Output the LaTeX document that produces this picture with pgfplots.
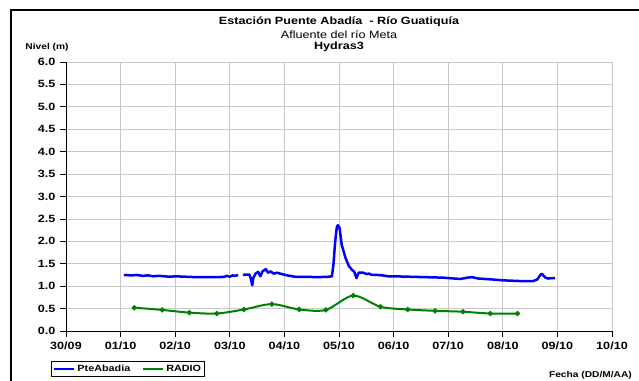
\documentclass[border=0pt]{standalone}
\usepackage{fontspec}
\setmainfont{Liberation Sans}[FakeStretch=1.2]
\usepackage{pgfplots}
\pgfplotsset{compat=1.18}
\definecolor{ablue}{HTML}{0000FF}
\definecolor{agreen}{HTML}{008000}
\definecolor{agrid}{HTML}{C8C8C8}
\begin{document}
\begin{tikzpicture}
\path[use as bounding box] (0,0) rectangle (639bp,381bp);
\draw[line width=2.5bp,line cap=rect] (11bp,0) -- (11bp,371bp) -- (639bp,371bp);
\node[font=\fontsize{10.5bp}{12bp}\selectfont\bfseries] at (339bp,359bp) {Estación Puente Abadía \ - Río Guatiquía};
\node[font=\fontsize{10.5bp}{12bp}\selectfont] at (339bp,346bp) {Afluente del río Meta};
\node[font=\fontsize{10.5bp}{12bp}\selectfont\bfseries] at (339bp,334bp) {Hydras3};
\node[font=\fontsize{8.5bp}{10bp}\selectfont\bfseries] at (47bp,334bp) {Nivel (m)};
\node[font=\fontsize{8.5bp}{10bp}\selectfont\bfseries,anchor=base east,inner sep=0] at (632bp,4bp) {Fecha (DD/M/AA)};
\begin{axis}[
  at={(66bp,50bp)}, anchor=south west,
  scale only axis, width=546bp, height=269bp,
  xmin=0, xmax=10, ymin=0, ymax=6,
  xtick={0,1,...,10},
  xticklabels={30/09,01/10,02/10,03/10,04/10,05/10,06/10,07/10,08/10,09/10,10/10},
  ytick={0,0.5,...,6},
  /pgf/number format/assume math mode=true,
  /pgf/number format/fixed,
  /pgf/number format/fixed zerofill,
  /pgf/number format/precision=1,
  ticklabel style={font=\fontsize{10.5bp}{12bp}\selectfont\bfseries},
  grid=major, major grid style={agrid, line width=0.8bp},
  axis x line*=bottom, axis y line*=left,
  axis line style={black, line width=1bp, -},
  tick style={black, line width=0.8bp},
  tick align=outside, major tick length=6bp,
  xticklabel style={yshift=-1bp},
  yticklabel style={xshift=-1bp},
  unbounded coords=jump,
  legend columns=2,
  legend style={at={(-0.0275,-0.171)}, anchor=south west, draw=black, line width=1bp,
    font=\fontsize{9bp}{10bp}\selectfont\bfseries, inner sep=1.5bp,
    /tikz/every even column/.append style={column sep=10bp}},
  legend image code/.code={\draw[#1] (0bp,0bp) -- (20bp,0bp);},
]
\addplot[ablue, line width=2.5bp, line join=round] coordinates {
(1.06,1.25) (1.2,1.24) (1.3,1.25) (1.4,1.23) (1.5,1.24) (1.6,1.22) (1.7,1.23) (1.8,1.22)
(1.9,1.21) (2.0,1.22) (2.2,1.21) (2.4,1.20) (2.6,1.20) (2.8,1.20) (2.9,1.21) (2.95,1.23)
(3.0,1.21) (3.05,1.24) (3.1,1.23) (3.15,1.25)
(3.2,nan)
(3.24,1.25) (3.3,1.26) (3.36,1.26) (3.39,1.15) (3.41,1.02) (3.43,1.18) (3.47,1.28)
(3.52,1.32) (3.56,1.22) (3.6,1.33) (3.66,1.38) (3.7,1.30) (3.75,1.33) (3.8,1.28)
(3.87,1.30) (3.95,1.27) (4.05,1.24) (4.2,1.21) (4.4,1.21) (4.6,1.20) (4.8,1.21)
(4.87,1.22) (4.9,1.5) (4.93,2.0) (4.96,2.32) (4.98,2.36) (5.01,2.30) (5.05,1.92)
(5.12,1.63) (5.18,1.45) (5.24,1.36) (5.28,1.32) (5.32,1.18) (5.36,1.30) (5.45,1.30)
(5.5,1.27) (5.55,1.28) (5.6,1.25) (5.7,1.25) (5.8,1.24) (5.9,1.22) (6.0,1.22)
(6.3,1.21) (6.6,1.20) (6.9,1.19) (7.22,1.16) (7.35,1.19) (7.44,1.20) (7.55,1.17)
(7.8,1.15) (8.0,1.13) (8.2,1.12) (8.4,1.11) (8.55,1.11) (8.63,1.15) (8.7,1.27)
(8.72,1.27) (8.78,1.19) (8.83,1.17) (8.9,1.18) (8.96,1.18)
};
\addlegendentry{PteAbadia}
\addplot[agreen, line width=2bp, smooth, tension=0.5, mark=*, mark size=1.5bp,
  mark options={solid}] coordinates {
(1.25,0.52) (1.76,0.47) (2.26,0.41) (2.76,0.39) (3.26,0.48) (3.77,0.60) (4.27,0.48)
(4.76,0.47) (5.26,0.79) (5.76,0.54) (6.26,0.48) (6.76,0.45) (7.27,0.43) (7.77,0.39) (8.27,0.39)
};
\addlegendentry{RADIO}
\end{axis}
\end{tikzpicture}
\end{document}
